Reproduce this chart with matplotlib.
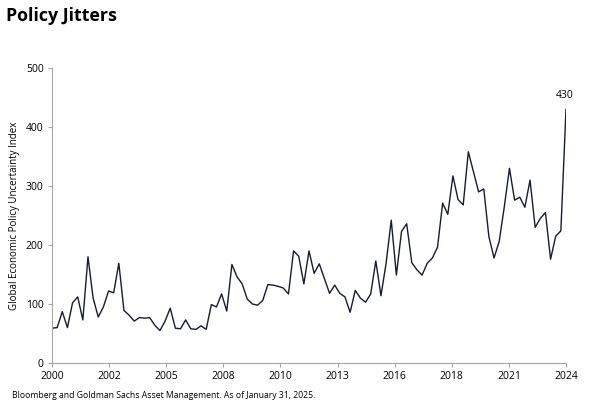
import matplotlib
matplotlib.use("Agg")
import matplotlib.pyplot as plt
import numpy as np

# Quarterly Global Economic Policy Uncertainty index, 2000Q1 .. 2025Q1
values = [59, 60, 87, 60, 102, 112, 73, 180, 110, 78,
          95, 122, 119, 169, 89, 81, 71, 77, 76, 77,
          64, 55, 71, 93, 59, 58, 73, 58, 57, 63,
          57, 99, 95, 117, 88, 167, 146, 134, 108, 100,
          98, 106, 133, 132, 130, 127, 117, 190, 181, 134,
          190, 152, 168, 143, 118, 132, 118, 112, 86, 123,
          110, 103, 117, 173, 114, 169, 242, 149, 223, 236,
          170, 158, 149, 169, 178, 196, 271, 252, 317, 277,
          268, 358, 324, 290, 295, 214, 178, 206, 265, 330,
          276, 281, 264, 310, 230, 245, 255, 176, 215, 224,
          430]
tick_labels = ["2000", "2002", "2005", "2008", "2010", "2013",
               "2016", "2018", "2021", "2024"]
y_ticks = [0, 100, 200, 300, 400, 500]
title = "Policy Jitters"
y_label = "Global Economic Policy Uncertainty Index"
footer = "Bloomberg and Goldman Sachs Asset Management. As of January 31, 2025."

plt.rcParams['font.family'] = ['Open Sans', 'DejaVu Sans']

fig = plt.figure(figsize=(5.9, 4.01), dpi=100)
ax = fig.add_axes([52/590, 38/401, (566-52)/590, (363-68)/401])

x = np.arange(len(values))
ax.plot(x, values, color="#161a36", lw=1.0)

ax.set_xlim(0, len(values) - 1)
ax.set_ylim(0, 500)
ax.set_yticks(y_ticks)
ax.set_xticks(np.linspace(0, len(values) - 1, len(tick_labels)))
ax.set_xticklabels(tick_labels)

for s in ["top", "right"]:
    ax.spines[s].set_visible(False)
for s in ["left", "bottom"]:
    ax.spines[s].set_color("#a6a6a6")
    ax.spines[s].set_linewidth(0.8)
ax.tick_params(axis="both", colors="#a6a6a6", length=3, width=0.8,
               labelcolor="black", labelsize=7.5)
ax.tick_params(axis="y", pad=3)
ax.tick_params(axis="x", pad=3)

ax.set_ylabel(y_label, fontsize=7, labelpad=4)

last = len(values) - 1
ax.annotate(str(values[-1]), (last, values[-1]), xytext=(-1, 6),
            textcoords="offset points", ha="center", va="bottom", fontsize=7.5)

fig.text(6/590, 1 - 16/401, title, fontsize=12.8, fontweight="bold",
         va="center", ha="left")
fig.text(12/590, 1 - 395/401, footer, fontsize=6.2, va="center", ha="left")

fig.savefig("out.png", dpi=100)
